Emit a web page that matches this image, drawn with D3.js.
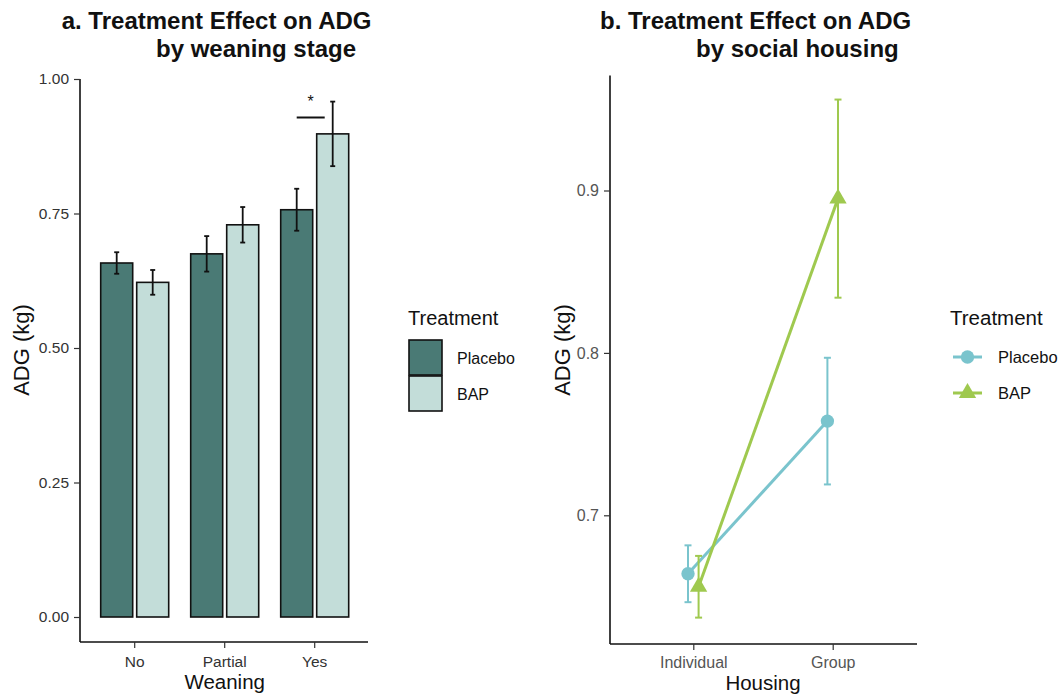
<!DOCTYPE html>
<html><head><meta charset="utf-8">
<script src="https://cdn.jsdelivr.net/npm/d3@7"></script>
<style>body{margin:0;background:#fff}svg{display:block;font-family:"Liberation Sans",Arial,Helvetica,sans-serif}</style>
</head><body><svg id="c" width="1058" height="694"></svg>
<script>
// Panel a data
const weaning = ["No", "Partial", "Yes"];
const treatments = ["Placebo", "BAP"];
const barPlacebo = [0.658, 0.675, 0.757];
const barPlaceboSE = [0.020, 0.033, 0.039];
const barBAP = [0.622, 0.729, 0.898];
const barBAPSE = [0.023, 0.033, 0.060];
const yTicksA = [0.00, 0.25, 0.50, 0.75, 1.00];
// Panel b data
const housing = ["Individual", "Group"];
const linePlacebo = [0.664, 0.758];
const linePlaceboSE = [0.0175, 0.039];
const lineBAP = [0.656, 0.895];
const lineBAPSE = [0.019, 0.061];
const yTicksB = [0.7, 0.8, 0.9];

const svg = d3.select("#c");

function styleAxis(a, size, col) {
  a.select(".domain").attr("stroke", "#111").attr("stroke-width", 1.6);
  a.selectAll(".tick line").attr("stroke", "#333").attr("stroke-width", 1.2);
  a.selectAll(".tick text").attr("font-size", size).attr("fill", col)
    .attr("font-family", "Liberation Sans, Arial, sans-serif");
}

// ---------- Panel a ----------
const ax = d3.scaleBand().domain(weaning).range([89.7, 359.7]);
const ay = d3.scaleLinear().domain([0, 1]).range([617, 79]);
const gA = svg.append("g");
const barsData = [];
weaning.forEach((w, i) => {
  barsData.push({w, t: "Placebo", v: barPlacebo[i], se: barPlaceboSE[i], off: -18});
  barsData.push({w, t: "BAP", v: barBAP[i], se: barBAPSE[i], off: 18});
});
const fillA = {Placebo: "#4a7a75", BAP: "#c3ddd9"};
const cx = d => ax(d.w) + ax.bandwidth()/2 + d.off;
gA.selectAll("rect.bar").data(barsData).join("rect")
  .attr("x", d => cx(d) - 16).attr("width", 32)
  .attr("y", d => ay(d.v)).attr("height", d => ay(0) - ay(d.v))
  .attr("fill", d => fillA[d.t]).attr("stroke", "#111").attr("stroke-width", 1.6);
const eb = gA.selectAll("g.eb").data(barsData).join("g").attr("stroke", "#111").attr("stroke-width", 1.8);
eb.append("line").attr("x1", cx).attr("x2", cx).attr("y1", d => ay(d.v + d.se)).attr("y2", d => ay(d.v - d.se));
eb.append("line").attr("x1", d => cx(d) - 2.5).attr("x2", d => cx(d) + 2.5).attr("y1", d => ay(d.v + d.se)).attr("y2", d => ay(d.v + d.se));
eb.append("line").attr("x1", d => cx(d) - 2.5).attr("x2", d => cx(d) + 2.5).attr("y1", d => ay(d.v - d.se)).attr("y2", d => ay(d.v - d.se));
// significance
const yesC = ax("Yes") + ax.bandwidth()/2;
gA.append("line").attr("x1", yesC - 18).attr("x2", yesC + 10).attr("y1", 117.5).attr("y2", 117.5).attr("stroke", "#111").attr("stroke-width", 2);
gA.append("text").attr("x", yesC - 4).attr("y", 107).attr("text-anchor", "middle").attr("font-size", 16).attr("fill", "#111").text("*");
// axes
const axisA_y = gA.append("g").attr("transform", "translate(80,0)")
  .call(d3.axisLeft(ay).tickValues(yTicksA).tickFormat(d3.format(".2f")).tickSize(6).tickPadding(5).tickSizeOuter(0));
const axisA_x = gA.append("g").attr("transform", "translate(0,642)")
  .call(d3.axisBottom(ax).tickSize(6).tickSizeOuter(0));
styleAxis(axisA_y, 15.5, "#333");
styleAxis(axisA_x, 15.5, "#333");
axisA_y.select(".domain").attr("d", "M0,79V642");
axisA_x.select(".domain").attr("d", "M80,0H368");
axisA_x.selectAll(".tick text").attr("y", 25).attr("dy", null);
gA.append("text").attr("transform", "translate(29,350) rotate(-90)").attr("text-anchor", "middle").attr("font-size", 22).attr("fill", "#111").text("ADG (kg)");
gA.append("text").attr("x", 224.7).attr("y", 689).attr("text-anchor", "middle").attr("font-size", 20.5).attr("fill", "#111").text("Weaning");
gA.append("text").attr("x", 61.7).attr("y", 29).attr("font-size", 24).attr("font-weight", "bold").attr("fill", "#111").text("a. Treatment Effect on ADG");
gA.append("text").attr("x", 156).attr("y", 57).attr("font-size", 24).attr("font-weight", "bold").attr("fill", "#111").text("by weaning stage");
// legend a
const lgA = gA.append("g");
lgA.append("text").attr("x", 408).attr("y", 325).attr("font-size", 20).attr("fill", "#111").text("Treatment");
treatments.forEach((t, i) => {
  lgA.append("rect").attr("x", 409).attr("y", 340 + i*36).attr("width", 33).attr("height", 35)
    .attr("fill", fillA[t]).attr("stroke", "#111").attr("stroke-width", 1.6);
  lgA.append("text").attr("x", 457).attr("y", 364 + i*36).attr("font-size", 16).attr("fill", "#111").text(t);
});

// ---------- Panel b ----------
const bx = d3.scalePoint().domain(housing).range([693.3, 832.7]);
const by = d3.scaleLinear().domain([0.7, 0.9]).range([515.3, 190.5]);
const colB = {Placebo: "#7ac4cd", BAP: "#9fc94f"};
const series = [
  {t: "Placebo", vals: linePlacebo, se: linePlaceboSE, off: -5.3},
  {t: "BAP", vals: lineBAP, se: lineBAPSE, off: 5.3}
];
const symType = {Placebo: d3.symbolCircle, BAP: d3.symbolTriangle};
const symSize = {Placebo: 140, BAP: 130};
const gB = svg.append("g");
const axisB_y = gB.append("g").attr("transform", "translate(610,0)")
  .call(d3.axisLeft(by).tickValues(yTicksB).tickFormat(d3.format(".1f")).tickSize(6).tickPadding(5).tickSizeOuter(0));
const axisB_x = gB.append("g").attr("transform", "translate(0,644)")
  .call(d3.axisBottom(bx).tickSize(6).tickSizeOuter(0));
styleAxis(axisB_y, 16, "#555");
styleAxis(axisB_x, 16, "#555");
axisB_y.select(".domain").attr("d", "M0,75.4V644");
axisB_x.select(".domain").attr("d", "M610,0H917");
axisB_x.selectAll(".tick text").attr("y", 24).attr("dy", null);

series.forEach(s => {
  const pts = housing.map((h, i) => ({x: bx(h) + s.off, v: s.vals[i], se: s.se[i]}));
  const g = gB.append("g");
  g.append("path").datum(pts).attr("fill", "none").attr("stroke", colB[s.t]).attr("stroke-width", 3)
    .attr("d", d3.line().x(d => d.x).y(d => by(d.v)));
  const e = g.selectAll("g.e").data(pts).join("g").attr("stroke", colB[s.t]).attr("stroke-width", 2);
  e.append("line").attr("x1", d => d.x).attr("x2", d => d.x).attr("y1", d => by(d.v + d.se)).attr("y2", d => by(d.v - d.se));
  e.append("line").attr("x1", d => d.x - 3.5).attr("x2", d => d.x + 3.5).attr("y1", d => by(d.v + d.se)).attr("y2", d => by(d.v + d.se));
  e.append("line").attr("x1", d => d.x - 3.5).attr("x2", d => d.x + 3.5).attr("y1", d => by(d.v - d.se)).attr("y2", d => by(d.v - d.se));
  g.selectAll("path.pt").data(pts).join("path").attr("class", "pt")
    .attr("transform", d => `translate(${d.x},${by(d.v)})`)
    .attr("d", d3.symbol().type(symType[s.t]).size(symSize[s.t])).attr("fill", colB[s.t]);
});
gB.append("text").attr("transform", "translate(570,350) rotate(-90)").attr("text-anchor", "middle").attr("font-size", 22).attr("fill", "#111").text("ADG (kg)");
gB.append("text").attr("x", 763).attr("y", 690).attr("text-anchor", "middle").attr("font-size", 20.5).attr("fill", "#111").text("Housing");
gB.append("text").attr("x", 600).attr("y", 29).attr("font-size", 24).attr("font-weight", "bold").attr("fill", "#111").text("b. Treatment Effect on ADG");
gB.append("text").attr("x", 696).attr("y", 57).attr("font-size", 24).attr("font-weight", "bold").attr("fill", "#111").text("by social housing");
// legend b
const lgB = gB.append("g");
lgB.append("text").attr("x", 950).attr("y", 325).attr("font-size", 20.5).attr("fill", "#111").text("Treatment");
series.forEach((s, i) => {
  const yy = 357 + i*36;
  lgB.append("line").attr("x1", 953).attr("x2", 982).attr("y1", yy).attr("y2", yy).attr("stroke", colB[s.t]).attr("stroke-width", 3);
  lgB.append("path").attr("transform", `translate(967.5,${yy})`)
    .attr("d", d3.symbol().type(symType[s.t]).size(symSize[s.t])).attr("fill", colB[s.t]);
  lgB.append("text").attr("x", 998).attr("y", yy + 6).attr("font-size", 16.5).attr("fill", "#111").text(s.t);
});
</script></body></html>
